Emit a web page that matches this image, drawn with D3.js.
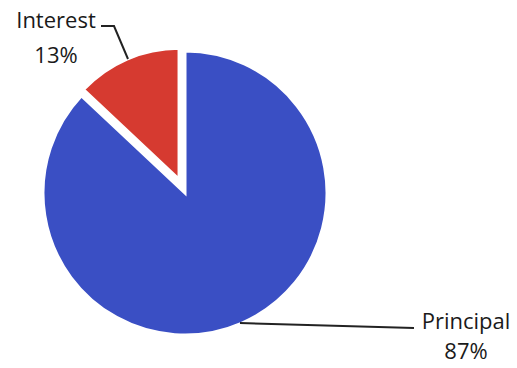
<!DOCTYPE html>
<html>
<head>
<meta charset="utf-8">
<script src="https://cdn.jsdelivr.net/npm/d3@7"></script>
<style>
  body { margin: 0; background: #fff; }
  text { font-family: "Open Sans", "Noto Sans", sans-serif; fill: #1a1a1a; }
</style>
</head>
<body>
<script>
// data
const labels = ["Interest", "Principal"];
const values = [13, 87];
const colors = ["#d63a30", "#3a4fc4"];

const width = 517, height = 368;
const cx = 185, cy = 193, radius = 142;

const svg = d3.select("body").append("svg")
    .attr("width", width)
    .attr("height", height);

const g = svg.append("g")
    .attr("transform", `translate(${cx},${cy})`);

// interest slice sits just left of 12 o'clock
const pie = d3.pie()
    .sort(null)
    .value(d => d)
    .startAngle(-2 * Math.PI * values[0] / 100)
    .endAngle(2 * Math.PI - 2 * Math.PI * values[0] / 100);

const arcs = pie(values);

const arcMain = d3.arc().innerRadius(0).outerRadius(radius);
const arcSmall = d3.arc().innerRadius(0).outerRadius(131);

// create the slices
g.selectAll("path")
    .data(arcs)
    .enter()
    .append("path")
    .attr("d", (d, i) => i === 0 ? arcSmall(d) : arcMain(d))
    .attr("fill", (d, i) => colors[i])
    .attr("stroke", "#fff")
    .attr("stroke-width", 3)
    .attr("transform", (d, i) => {
        if (i !== 0) return null;
        const a = (d.startAngle + d.endAngle) / 2;
        const off = 15;
        return `translate(${Math.sin(a) * off},${-Math.cos(a) * off})`;
    });

// leader lines
const lines = [
    [[101, 26], [114, 26], [128, 59]],
    [[240, 323], [414, 328]]
];
svg.selectAll("polyline")
    .data(lines)
    .enter()
    .append("polyline")
    .attr("points", d => d.map(p => p.join(",")).join(" "))
    .attr("fill", "none")
    .attr("stroke", "#222")
    .attr("stroke-width", 2);

// labels
const labelPos = [[56, 28], [466, 329]];
const lineGap = [35, 30];
labels.forEach((name, i) => {
    const t = svg.append("text")
        .attr("x", labelPos[i][0])
        .attr("y", labelPos[i][1])
        .attr("text-anchor", "middle")
        .style("font-size", "22px");
    t.append("tspan").text(name);
    t.append("tspan")
        .attr("x", labelPos[i][0])
        .attr("dy", lineGap[i])
        .text(values[i] + "%");
});
</script>
</body>
</html>
